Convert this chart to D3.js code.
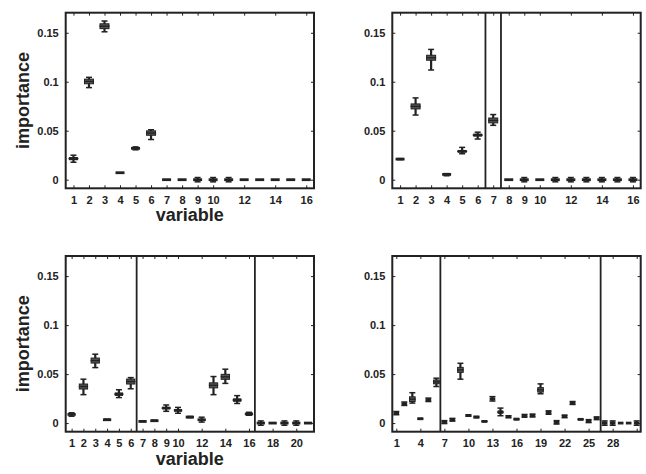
<!DOCTYPE html>
<html><head><meta charset="utf-8">
<script src="https://cdn.jsdelivr.net/npm/d3@7"></script>
<style>html,body{margin:0;padding:0;background:#fff;}svg{display:block;}</style>
</head><body>
<script>
// ---------- data ----------
const yTicks = [0, 0.05, 0.1, 0.15];

const tlVariables = [1,2,3,4,5,6,7,8,9,10,11,12,13,14,15,16];
const tlMedian = [0.0215,0.1003,0.1567,0.0071,0.0320,0.0476,0,0,0,0,0,0,0,0,0,0];
const tlLow    = [0.0178,0.0940,0.1510,0.0071,0.0305,0.0410,0,0,-0.0022,-0.0022,-0.0022,0,0,0,0,0];
const tlHigh   = [0.0250,0.1045,0.1620,0.0071,0.0335,0.0510,0,0,0.0022,0.0022,0.0022,0,0,0,0,0];
const tlTicks  = [1,2,3,4,5,6,7,8,9,10,12,14,16];
const tlSeparators = [];

const trVariables = [1,2,3,4,5,6,7,8,9,10,11,12,13,14,15,16];
const trMedian = [0.0210,0.0748,0.1245,0.0054,0.0289,0.0455,0.0605,0,0,0,0,0,0,0,0,0];
const trLow    = [0.0205,0.0660,0.1120,0.0040,0.0265,0.0415,0.0555,0,-0.0022,0,-0.0022,-0.0022,-0.0022,-0.0022,-0.0022,-0.0022];
const trHigh   = [0.0215,0.0835,0.1330,0.0062,0.0330,0.0485,0.0665,0,0.0022,0,0.0022,0.0022,0.0022,0.0022,0.0022,0.0022];
const trTicks  = [1,2,3,4,5,6,7,8,9,10,12,14,16];
const trSeparators = [6.5, 7.5];

const blVariables = [1,2,3,4,5,6,7,8,9,10,11,12,13,14,15,16,17,18,19,20,21];
const blMedian = [0.0088,0.0373,0.0638,0.0034,0.0295,0.0424,0.0017,0.0024,0.0153,0.0129,0.0061,0.0034,0.0385,0.0472,0.0235,0.0093,0,0,0,0,0];
const blLow    = [0.0070,0.0290,0.0566,0.0030,0.0260,0.0350,0.0015,0.0020,0.0120,0.0100,0.0055,0.0010,0.0290,0.0405,0.0200,0.0080,-0.0022,0,-0.0022,-0.0022,0];
const blHigh   = [0.0105,0.0448,0.0703,0.0040,0.0340,0.0464,0.0020,0.0030,0.0185,0.0160,0.0068,0.0060,0.0475,0.0550,0.0280,0.0110,0.0022,0,0.0022,0.0022,0];
const blTicks  = [1,2,3,4,5,6,7,8,9,10,12,14,16,18,20];
const blSeparators = [6.5, 16.5];

const brVariables = [1,2,3,4,5,6,7,8,9,10,11,12,13,14,15,16,17,18,19,20,21,22,23,24,25,26,27,28,29,30,31];
const brMedian = [0.0102,0.0197,0.0244,0.0044,0.0237,0.0420,0.0010,0.0034,0.0543,0.0077,0.0061,0.0017,0.0247,0.0112,0.0064,0.0040,0.0074,0.0077,0.0339,0.0108,0.0007,0.0068,0.0204,0.0038,0.0020,0.0049,0,0,0,0,0];
const brLow    = [0.0085,0.0180,0.0204,0.0040,0.0220,0.0373,-0.0005,0.0020,0.0448,0.0070,0.0055,0.0015,0.0225,0.0075,0.0055,0.0035,0.0060,0.0062,0.0299,0.0090,-0.0010,0.0055,0.0190,0.0035,0.0005,0.0035,-0.0022,-0.0022,0,0,-0.0022];
const brHigh   = [0.0118,0.0215,0.0310,0.0048,0.0255,0.0458,0.0025,0.0048,0.0610,0.0085,0.0068,0.0020,0.0270,0.0153,0.0075,0.0045,0.0088,0.0092,0.0400,0.0125,0.0025,0.0082,0.0220,0.0042,0.0035,0.0063,0.0022,0.0022,0,0,0.0022];
const brTicks  = [1,4,7,10,13,16,19,22,25,28,31];
const brTickLabels = ["1","4","7","10","13","16","19","22","25","28",""];
const brSeparators = [6.5, 26.5];

// ---------- drawing ----------
const W = 646, H = 474;
const svg = d3.select("body").append("svg").attr("width", W).attr("height", H);
const ink = "#222";
const font = "'Liberation Sans', Arial, Helvetica, sans-serif";

const panels = [
  {x0:65.7, x1:314, y0:12.7, y1:188.3, vars:tlVariables, med:tlMedian, lo:tlLow, hi:tlHigh, ticks:tlTicks, labels:tlTicks.map(String), seps:tlSeparators, ylab:true, xlab:true},
  {x0:392.3, x1:640.7, y0:12.7, y1:188.3, vars:trVariables, med:trMedian, lo:trLow, hi:trHigh, ticks:trTicks, labels:trTicks.map(String), seps:trSeparators, ylab:false, xlab:false},
  {x0:65.7, x1:314, y0:256, y1:431.7, vars:blVariables, med:blMedian, lo:blLow, hi:blHigh, ticks:blTicks, labels:blTicks.map(String), seps:blSeparators, ylab:true, xlab:true},
  {x0:392.3, x1:640.7, y0:256, y1:431.7, vars:brVariables, med:brMedian, lo:brLow, hi:brHigh, ticks:brTicks, labels:brTickLabels, seps:brSeparators, ylab:false, xlab:false}
];

panels.forEach(p => {
  const n = p.vars.length;
  const x = d3.scaleLinear().domain([0.5, n + 0.5]).range([p.x0, p.x1]);
  const y = d3.scaleLinear().domain([-0.0088, 0.1705]).range([p.y1, p.y0]);
  const g = svg.append("g");
  const step = x(2) - x(1);
  const gw = Math.min(9, step * 0.7);

  const bottom = g.append("g").attr("transform", `translate(0,${p.y1})`)
    .call(d3.axisBottom(x).tickValues(p.ticks).tickSizeInner(-3).tickSizeOuter(0).tickPadding(8)
      .tickFormat((d, i) => p.labels[i]));
  bottom.select(".domain").remove();
  bottom.selectAll("line").attr("stroke", ink).attr("stroke-width", 1);
  bottom.selectAll("text").attr("font-family", font).attr("font-weight", "bold").attr("font-size", "11px").attr("fill", ink);

  const top = g.append("g").attr("transform", `translate(0,${p.y0})`)
    .call(d3.axisTop(x).tickValues(p.ticks).tickSizeInner(-3).tickSizeOuter(0).tickFormat(""));
  top.select(".domain").remove();
  top.selectAll("line").attr("stroke", ink);

  const left = g.append("g").attr("transform", `translate(${p.x0},0)`)
    .call(d3.axisLeft(y).tickValues(yTicks).tickSizeInner(-3).tickSizeOuter(0).tickPadding(7)
      .tickFormat(d => d === 0 ? "0" : String(+d.toFixed(2))));
  left.select(".domain").remove();
  left.selectAll("line").attr("stroke", ink);
  left.selectAll("text").attr("font-family", font).attr("font-weight", "bold").attr("font-size", "11px").attr("fill", ink);

  const right = g.append("g").attr("transform", `translate(${p.x1},0)`)
    .call(d3.axisRight(y).tickValues(yTicks).tickSizeInner(-3).tickSizeOuter(0).tickFormat(""));
  right.select(".domain").remove();
  right.selectAll("line").attr("stroke", ink);

  g.selectAll(".sep").data(p.seps).enter().append("line")
    .attr("x1", d => x(d)).attr("x2", d => x(d)).attr("y1", p.y0).attr("y2", p.y1)
    .attr("stroke", ink).attr("stroke-width", 1.8);

  const gl = g.append("g");
  d3.range(n).forEach(i => {
    const cx = x(p.vars[i]);
    const ym = y(p.med[i]), yl = y(p.lo[i]), yh = y(p.hi[i]);
    const spread = yl - yh;
    if (spread > 0) {
      gl.append("line").attr("x1", cx).attr("x2", cx).attr("y1", yl).attr("y2", yh)
        .attr("stroke", ink).attr("stroke-width", 2.2);
      [yl, yh].forEach(yy => gl.append("line").attr("x1", cx - 3).attr("x2", cx + 3)
        .attr("y1", yy).attr("y2", yy).attr("stroke", ink).attr("stroke-width", 1.5));
    }
    const bh = Math.max(2.8, Math.min(5, spread * 0.45));
    gl.append("rect").attr("x", cx - gw / 2).attr("y", ym - bh / 2).attr("width", gw).attr("height", bh)
      .attr("fill", spread > 8 ? "#555" : ink).attr("stroke", spread > 8 ? ink : "none").attr("stroke-width", 1);
    if (spread > 6) {
      gl.append("line").attr("x1", cx - gw / 2 - 0.5).attr("x2", cx + gw / 2 + 0.5).attr("y1", ym).attr("y2", ym)
        .attr("stroke", ink).attr("stroke-width", 1.4);
    }
  });

  g.append("rect").attr("x", p.x0).attr("y", p.y0).attr("width", p.x1 - p.x0).attr("height", p.y1 - p.y0)
    .attr("fill", "none").attr("stroke", ink).attr("stroke-width", 2);

  if (p.xlab) {
    g.append("text").attr("x", (p.x0 + p.x1) / 2).attr("y", p.y1 + 33)
      .attr("text-anchor", "middle").attr("font-family", font).attr("font-weight", "bold")
      .attr("font-size", "18px").attr("fill", ink).text("variable");
  }
  if (p.ylab) {
    g.append("text").attr("transform", `translate(29,${(p.y0 + p.y1) / 2}) rotate(-90)`)
      .attr("text-anchor", "middle").attr("font-family", font).attr("font-weight", "bold")
      .attr("font-size", "18px").attr("fill", ink).text("importance");
  }
});
</script>
</body></html>
